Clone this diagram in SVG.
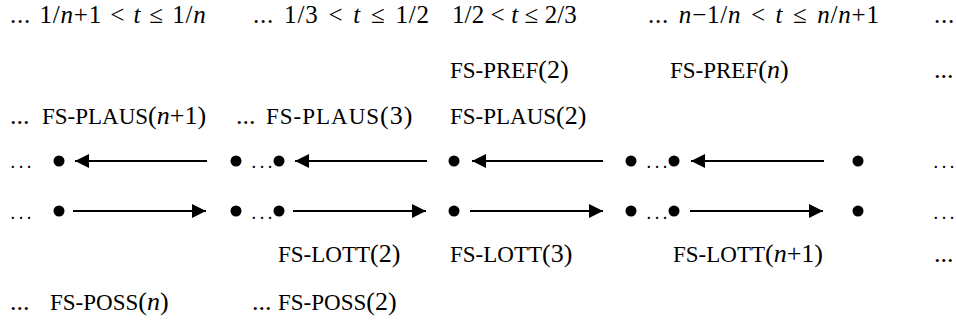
<svg xmlns="http://www.w3.org/2000/svg" width="956" height="328" viewBox="0 0 956 328">
  <style>
    .t { font-family: "Liberation Serif", "Times New Roman", serif; font-size: 26px; fill: #000; }
    .hd { font-size: 25px; letter-spacing: 0.8px; }
    .sc { font-size: 23px; }
    .i { font-style: italic; }
    .el { font-family: "Liberation Sans", Arial, sans-serif; font-size: 20px; letter-spacing: 2.6px; fill: #000; }
    .dot { fill: #000; }
    .arr { stroke: #000; stroke-width: 2; fill: none; marker-end: url(#head); }
  </style>
  <defs>
    <marker id="head" markerUnits="userSpaceOnUse" markerWidth="14" markerHeight="14" refX="14" refY="7" orient="auto">
      <path d="M0,0 L14,7 L0,14 z" fill="#000"/>
    </marker>
  </defs>
  <rect width="956" height="328" fill="#fff"/>

  <!-- threshold intervals -->
  <g id="intervals">
    <text class="t hd" x="10" y="23" word-spacing="1.2">... 1/<tspan class="i">n</tspan>+1 &lt; <tspan class="i">t</tspan> ≤ 1/<tspan class="i">n</tspan></text>
    <text class="t hd" x="253" y="23" word-spacing="2.9">... 1/3 &lt; <tspan class="i">t</tspan> ≤ 1/2</text>
    <text class="t hd" x="452" y="23" style="letter-spacing:0.1px">1/2 &lt; <tspan class="i">t</tspan> ≤ 2/3</text>
    <text class="t hd" x="648" y="23" word-spacing="2.6">... <tspan class="i">n</tspan>−1/<tspan class="i">n</tspan> &lt; <tspan class="i">t</tspan> ≤ <tspan class="i">n</tspan>/<tspan class="i">n</tspan>+1</text>
    <text class="t hd" x="934" y="23">...</text>
  </g>

  <!-- preference rules -->
  <g id="pref">
    <text class="t" x="450" y="78"><tspan class="sc">FS-PREF</tspan>(2)</text>
    <text class="t" x="670" y="78"><tspan class="sc">FS-PREF</tspan>(<tspan class="i">n</tspan>)</text>
    <text class="t" x="934" y="78">...</text>
  </g>

  <!-- plausibility rules -->
  <g id="plaus">
    <text class="t" x="10" y="124">...</text>
    <text class="t" x="42" y="124"><tspan class="sc">FS-PLAUS</tspan>(<tspan class="i">n</tspan>+1)</text>
    <text class="t" x="236" y="124">...</text>
    <text class="t" x="266" y="124" letter-spacing="1"><tspan class="sc">FS-PLAUS</tspan>(3)</text>
    <text class="t" x="450" y="124"><tspan class="sc">FS-PLAUS</tspan>(2)</text>
  </g>

  <!-- points of the two chains -->
  <g id="points-upper">
    <text class="el" x="10" y="168">...</text>
    <circle class="dot" cx="59" cy="161" r="5.5"/>
    <circle class="dot" cx="236" cy="161" r="5.5"/>
    <text class="el" x="251" y="168">...</text>
    <circle class="dot" cx="279" cy="161" r="5.5"/>
    <circle class="dot" cx="454" cy="161" r="5.5"/>
    <circle class="dot" cx="631" cy="161" r="5.5"/>
    <text class="el" x="646" y="168">...</text>
    <circle class="dot" cx="674" cy="161" r="5.5"/>
    <circle class="dot" cx="858" cy="161" r="5.5"/>
    <text class="el" x="933" y="168">...</text>
  </g>
  <g id="points-lower">
    <text class="el" x="10" y="219">...</text>
    <circle class="dot" cx="59" cy="211" r="5.5"/>
    <circle class="dot" cx="236" cy="211" r="5.5"/>
    <text class="el" x="251" y="219">...</text>
    <circle class="dot" cx="279" cy="211" r="5.5"/>
    <circle class="dot" cx="454" cy="211" r="5.5"/>
    <circle class="dot" cx="631" cy="211" r="5.5"/>
    <text class="el" x="646" y="219">...</text>
    <circle class="dot" cx="674" cy="211" r="5.5"/>
    <circle class="dot" cx="858" cy="211" r="5.5"/>
    <text class="el" x="933" y="219">...</text>
  </g>

  <!-- connectors -->
  <g id="connectors">
    <line class="arr" x1="207" y1="161" x2="75" y2="161"/>
    <line class="arr" x1="427" y1="161" x2="295" y2="161"/>
    <line class="arr" x1="603" y1="161" x2="472" y2="161"/>
    <line class="arr" x1="824" y1="161" x2="691" y2="161"/>
    <line class="arr" x1="73" y1="211" x2="206" y2="211"/>
    <line class="arr" x1="293" y1="211" x2="426" y2="211"/>
    <line class="arr" x1="470" y1="211" x2="603" y2="211"/>
    <line class="arr" x1="690" y1="211" x2="823" y2="211"/>
  </g>

  <!-- lottery rules -->
  <g id="lott">
    <text class="t" x="278" y="262"><tspan class="sc">FS-LOTT</tspan>(2)</text>
    <text class="t" x="450" y="262"><tspan class="sc">FS-LOTT</tspan>(3)</text>
    <text class="t" x="673" y="262"><tspan class="sc">FS-LOTT</tspan>(<tspan class="i">n</tspan>+1)</text>
    <text class="t" x="934" y="262">...</text>
  </g>

  <!-- possibility rules -->
  <g id="poss">
    <text class="t" x="10" y="310">...</text>
    <text class="t" x="50" y="310"><tspan class="sc">FS-POSS</tspan>(<tspan class="i">n</tspan>)</text>
    <text class="t" x="252" y="310">...</text>
    <text class="t" x="278" y="310"><tspan class="sc">FS-POSS</tspan>(2)</text>
  </g>
</svg>
